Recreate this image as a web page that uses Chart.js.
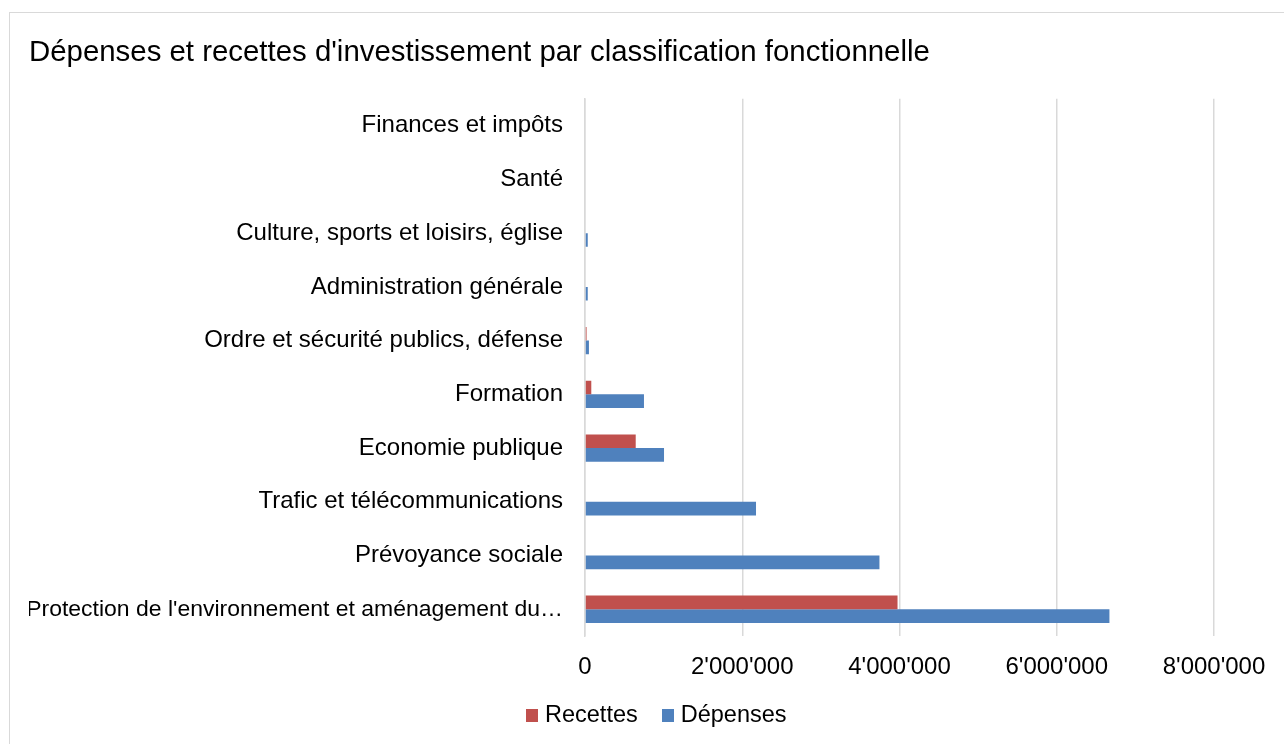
<!DOCTYPE html>
<html>
<head>
<meta charset="utf-8">
<script src="https://cdn.jsdelivr.net/npm/chart.js@4"></script>
<style>
  html, body { margin: 0; padding: 0; background: #fff; width: 1284px; height: 744px; overflow: hidden; }
  #frame { position: absolute; left: 9px; top: 12px; width: 1300px; height: 800px; border-left: 1px solid #D9D9D9; border-top: 1px solid #D9D9D9; }
  #wrap { position: absolute; left: 10px; top: 13px; width: 1274px; height: 731px; }
  #legend { position: absolute; left: 526px; top: 701px; display: flex; font-family: 'Liberation Sans', Arial, Helvetica, sans-serif; font-size: 23.5px; line-height: 27px; color: #000; white-space: nowrap; }
  #legend .item { display: flex; align-items: flex-start; margin-right: 24px; }
  #legend .box { width: 12px; height: 13px; margin-top: 8px; margin-right: 7px; }
</style>
</head>
<body>
<div id="frame"></div>
<div id="wrap"><canvas id="c"></canvas></div>
<div id="legend"></div>
<script>
const categories = [
  "Finances et impôts",
  "Santé",
  "Culture, sports et loisirs, église",
  "Administration générale",
  "Ordre et sécurité publics, défense",
  "Formation",
  "Economie publique",
  "Trafic et télécommunications",
  "Prévoyance sociale",
  "Protection de l'environnement et aménagement du…"
];
const recettes = [0, 0, 0, 0, 20000, 80000, 645000, 0, 0, 3975000];
const depenses = [0, 0, 35000, 35000, 50000, 750000, 1005000, 2175000, 3745000, 6670000];
const seriesNames = ['Recettes', 'Dépenses'];
const seriesColors = ['#C0504D', '#4F81BD'];
const xTickMax = 8000000;
const xTickStep = 2000000;

function fmt(v) {
  return String(Math.round(v)).replace(/\B(?=(\d{3})+(?!\d))/g, "'");
}

const FONT = "'Liberation Sans', Arial, Helvetica, sans-serif";
Chart.defaults.font.family = FONT;
Chart.defaults.color = '#000';

// shrink only labels that would not fit in the label column (like the truncated one)
const measureCtx = document.createElement('canvas').getContext('2d');
function labelFont(ctx) {
  const base = 24;
  const maxW = 537;
  const text = ctx.tick && ctx.tick.label ? String(ctx.tick.label) : '';
  measureCtx.font = base + 'px ' + FONT;
  const w = measureCtx.measureText(text).width;
  const size = w > maxW ? base * maxW / w : base;
  return { size: size, family: FONT };
}

const htmlLegend = {
  id: 'htmlLegend',
  afterUpdate(chart) {
    const el = document.getElementById('legend');
    el.innerHTML = '';
    chart.data.datasets.forEach((ds) => {
      const item = document.createElement('div');
      item.className = 'item';
      const box = document.createElement('span');
      box.className = 'box';
      box.style.background = ds.backgroundColor;
      const txt = document.createElement('span');
      txt.textContent = ds.label;
      item.appendChild(box);
      item.appendChild(txt);
      el.appendChild(item);
    });
  }
};

new Chart(document.getElementById('c'), {
  type: 'bar',
  data: {
    labels: categories,
    datasets: [
      { label: seriesNames[0], data: recettes, backgroundColor: seriesColors[0], borderWidth: 0 },
      { label: seriesNames[1], data: depenses, backgroundColor: seriesColors[1], borderWidth: 0 }
    ]
  },
  plugins: [htmlLegend],
  options: {
    indexAxis: 'y',
    responsive: true,
    maintainAspectRatio: false,
    animation: false,
    categoryPercentage: 0.51,
    barPercentage: 1.0,
    layout: { padding: { left: 19, right: 70, top: 0, bottom: 45 } },
    plugins: {
      title: {
        display: true,
        text: "Dépenses et recettes d'investissement par classification fonctionnelle",
        align: 'start',
        color: '#000',
        font: { size: 29.4, weight: 'normal', family: FONT },
        padding: { top: 22, bottom: 28.5 }
      },
      legend: { display: false },
      tooltip: { enabled: false }
    },
    scales: {
      x: {
        min: 0,
        max: xTickMax,
        ticks: {
          stepSize: xTickStep,
          padding: 17,
          color: '#000',
          font: { size: 24, family: FONT },
          callback: (v) => fmt(v),
          maxRotation: 0
        },
        grid: { color: '#D9D9D9', lineWidth: 1.5, drawTicks: false },
        border: { display: false }
      },
      y: {
        ticks: {
          padding: 22,
          color: '#000',
          font: labelFont,
          autoSkip: false
        },
        grid: { display: false, drawTicks: false },
        border: { display: true, color: '#D9D9D9', width: 1.5 },
        afterFit: (scale) => { scale.width = 556; }
      }
    }
  }
});
</script>
</body>
</html>
